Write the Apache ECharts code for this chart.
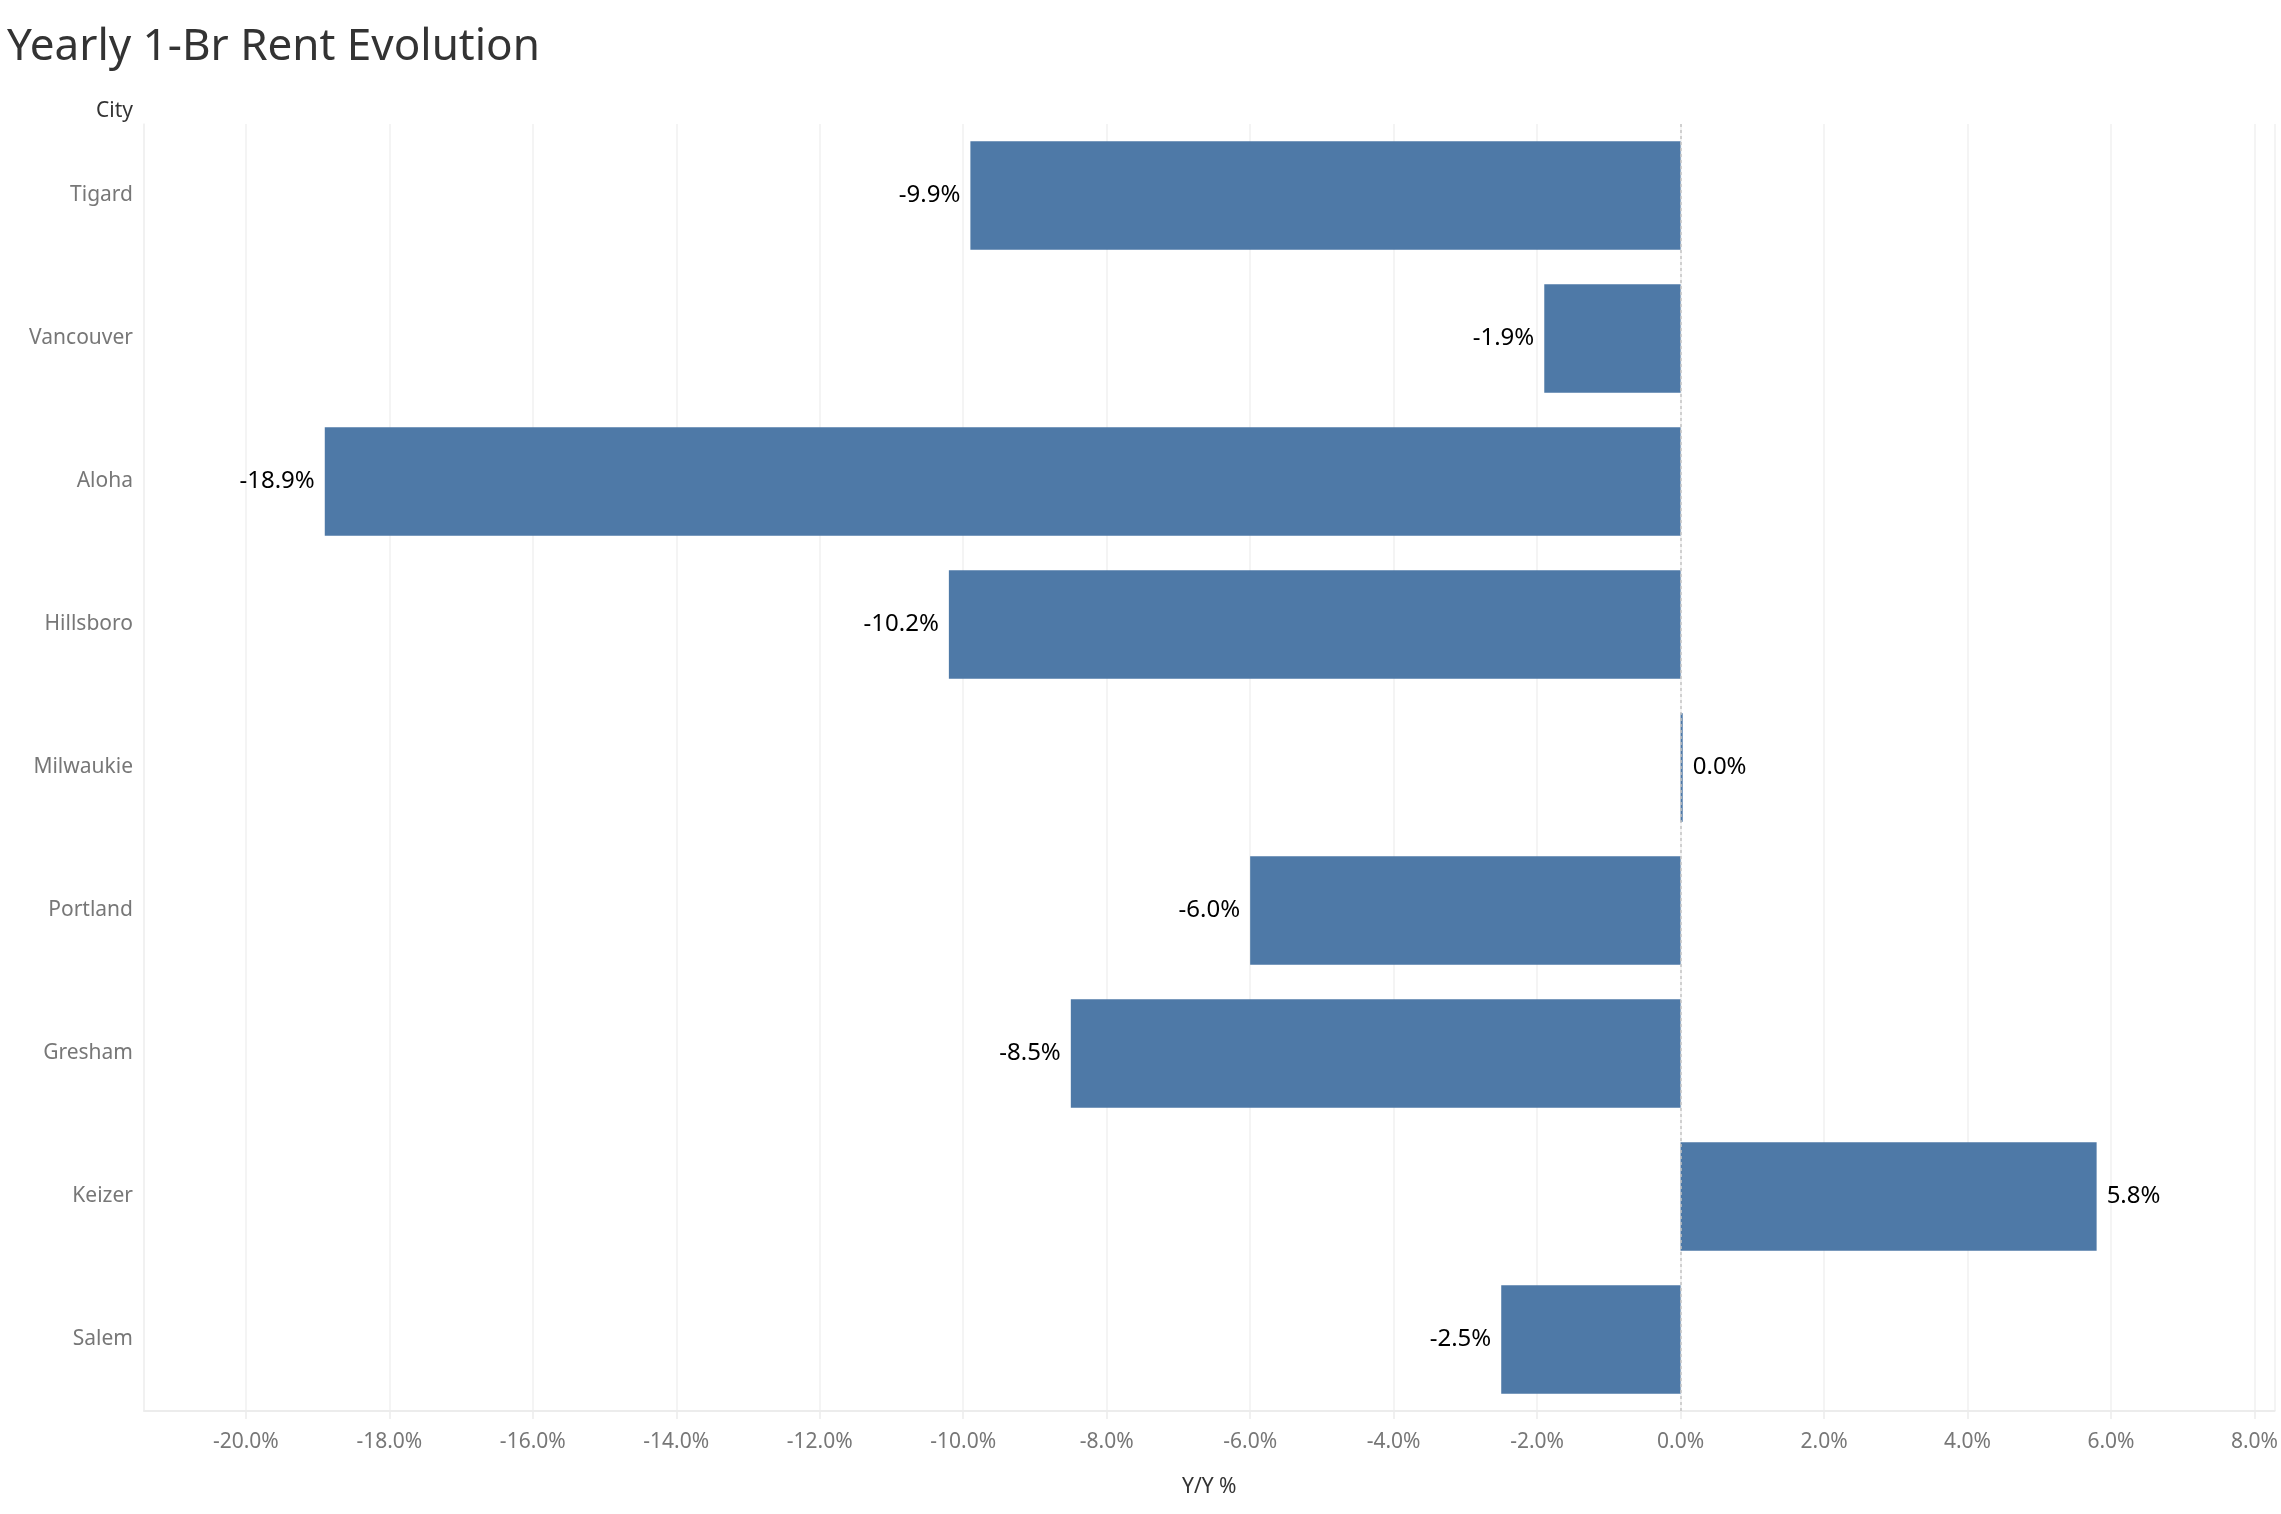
<!DOCTYPE html>
<html>
<head>
<meta charset="utf-8">
<script src="https://cdn.jsdelivr.net/npm/echarts@6/dist/echarts.min.js"></script>
<style>
  html, body { margin: 0; padding: 0; background: #ffffff; }
  #chart { width: 2281px; height: 1514px; }
</style>
</head>
<body>
<div id="chart"></div>
<script>
const cities = ['Tigard', 'Vancouver', 'Aloha', 'Hillsboro', 'Milwaukie', 'Portland', 'Gresham', 'Keizer', 'Salem'];
const yoyPct = [-9.9, -1.9, -18.9, -10.2, 0.03, -6.0, -8.5, 5.8, -2.5];
const xAxisMin = -21.42;
const xAxisMax = 8.28;

const FONT = '"Noto Sans", sans-serif';
const chart = echarts.init(document.getElementById('chart'));

chart.setOption({
  backgroundColor: '#ffffff',
  animation: false,
  title: [
    {
      text: 'Yearly 1-Br Rent Evolution',
      left: 7, top: 25, padding: 0,
      textStyle: { fontFamily: FONT, fontSize: 44, fontWeight: 'normal', color: '#333333' }
    },
    {
      text: 'City',
      right: 2148, top: 101, padding: 0,
      textStyle: { fontFamily: FONT, fontSize: 21, fontWeight: 'normal', color: '#333333' }
    }
  ],
  grid: { left: 144, right: 0, top: 124, bottom: 103, containLabel: false },
  xAxis: {
    type: 'value',
    min: xAxisMin,
    max: xAxisMax,
    splitNumber: 15,
    name: 'Y/Y %',
    nameLocation: 'middle',
    nameGap: 66,
    nameTextStyle: { fontFamily: FONT, fontSize: 21, color: '#333333' },
    axisLine: { show: true, lineStyle: { color: '#ececec', width: 2 } },
    axisTick: { show: true, length: 8, lineStyle: { color: '#ececec', width: 1.5 } },
    axisLabel: {
      fontFamily: FONT, fontSize: 21, color: '#777777', margin: 21,
      showMinLabel: false, showMaxLabel: false,
      formatter: v => v.toFixed(1) + '%'
    },
    splitLine: { show: true, lineStyle: { color: '#f1f1f1', width: 1.5 } }
  },
  yAxis: {
    type: 'category',
    data: cities,
    inverse: true,
    axisLine: { show: true, onZero: false, lineStyle: { color: '#f1f1f1', width: 1.5 } },
    axisTick: { show: false },
    axisLabel: { fontFamily: FONT, fontSize: 21, color: '#777777', margin: 11, padding: [6, 0, 0, 0] },
    splitLine: { show: false }
  },
  series: [{
    type: 'bar',
    data: yoyPct.map(v => ({ value: v, label: { position: v < 0 ? 'left' : 'right' } })),
    barCategoryGap: '24%',
    itemStyle: { color: '#4e79a7' },
    label: {
      show: true,
      distance: 10,
      padding: [6, 0, 0, 0],
      fontFamily: FONT, fontSize: 24, color: '#000000',
      formatter: p => p.value.toFixed(1) + '%'
    },
    markLine: {
      silent: true,
      symbol: 'none',
      label: { show: false },
      lineStyle: { color: '#c4c4c4', type: [3, 3], width: 1.5 },
      data: [{ xAxis: 0 }]
    }
  }]
});
</script>
</body>
</html>
